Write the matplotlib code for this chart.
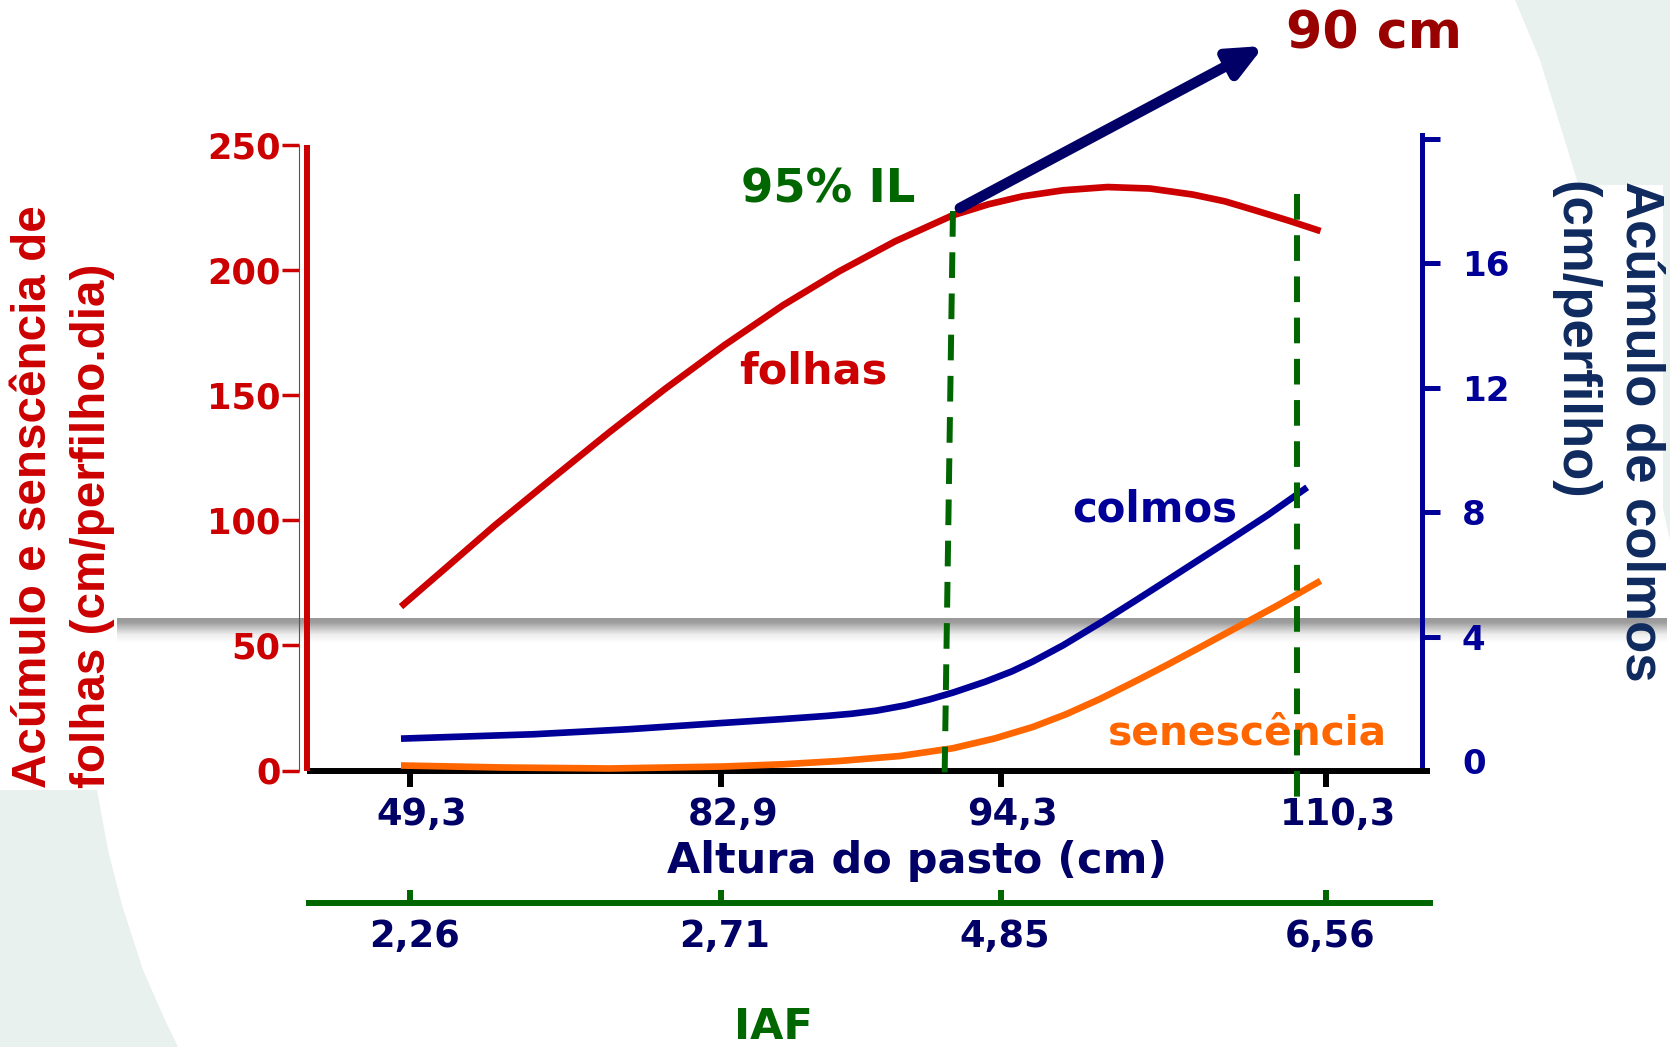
import numpy as np
import matplotlib
matplotlib.use("Agg")
import matplotlib.pyplot as plt
from matplotlib.patches import Polygon, Rectangle, FancyArrowPatch, ArrowStyle
from matplotlib.transforms import ScaledTranslation

# ---- data -------------------------------------------------------------
altura_labels = ["49,3", "82,9", "94,3", "110,3"]      # pasture height (cm)
iaf_labels = ["2,26", "2,71", "4,85", "6,56"]          # leaf area index
tick_pos = [0.0, 1.0, 1.9, 2.945]                      # category positions

# leaf accumulation (cm/perfilho.dia) - left axis
folhas_x = [-0.029, 0.12, 0.273, 0.45, 0.642, 0.82, 1.011, 1.2, 1.38, 1.56,
            1.743, 1.86, 1.97, 2.10, 2.243, 2.38, 2.517, 2.62, 2.72, 2.83,
            2.928]
folhas_y = [65.5, 81.5, 98.0, 116.0, 135.3, 152.5, 170.0, 186.0, 199.5,
            211.5, 221.8, 226.3, 229.5, 231.9, 233.2, 232.6, 230.2, 227.5,
            223.8, 219.6, 215.6]

# stem accumulation (cm/perfilho) - right axis
colmos_x = [-0.029, 0.396, 0.70, 0.999, 1.2, 1.34, 1.42, 1.5, 1.593, 1.67,
            1.746, 1.85, 1.935, 2.003, 2.10, 2.219, 2.33, 2.433, 2.54, 2.647,
            2.76, 2.885]
colmos_y = [0.72, 0.86, 1.02, 1.22, 1.35, 1.45, 1.52, 1.62, 1.79, 1.98,
            2.20, 2.55, 2.88, 3.20, 3.72, 4.44, 5.14, 5.80, 6.49, 7.18, 7.92,
            8.80]

# leaf senescence (cm/perfilho.dia) - left axis
senesc_x = [-0.029, 0.30, 0.642, 1.011, 1.2, 1.38, 1.576, 1.746, 1.88, 2.003,
            2.11, 2.219, 2.33, 2.433, 2.54, 2.647, 2.79, 2.928]
senesc_y = [2.0, 1.2, 0.8, 1.6, 2.5, 3.8, 5.8, 8.9, 12.8, 17.4, 22.5, 28.6,
            35.5, 42.1, 49.2, 56.4, 66.0, 75.8]

# ---- colours ----------------------------------------------------------
RED = "#CC0000"
DARKRED = "#990000"
BLUE = "#000099"
NAVY = "#000066"
ORANGE = "#FF6600"
GREEN = "#006600"
TITLE_NAVY = "#0F2A5E"
PALE = "#E9F1EE"

W, H = 1670, 1047
fig = plt.figure(figsize=(W / 100, H / 100), dpi=100)
fig.patch.set_facecolor("white")
plt.rcParams["font.family"] = ["DejaVu Sans"]

# ---- slide background (pixel coordinates) -----------------------------
bg = fig.add_axes([0, 0, 1, 1], zorder=0)
bg.set_xlim(0, W)
bg.set_ylim(H, 0)
bg.axis("off")
bg.add_patch(Polygon([(0, 700), (90, 760), (97, 790), (108, 850), (122, 905),
                      (143, 970), (165, 1020), (178, 1047), (0, 1047)],
                     closed=True, fc=PALE, ec="none"))
bg.add_patch(Polygon([(1515, 0), (1540, 60), (1560, 125), (1580, 190),
                      (1600, 260), (1625, 350), (1650, 450), (1670, 540),
                      (1670, 0)], closed=True, fc=PALE, ec="none"))
bg.add_patch(Rectangle((0, 190), 117, 600, fc="white", ec="none"))
bg.add_patch(Rectangle((1545, 185), 118, 433, fc="white", ec="none"))
# soft shadow band across the slide
offs = np.arange(0, 25)
shade = np.interp(offs, [0, 4, 10, 16, 24], [0.60, 0.62, 0.78, 0.93, 1.0])
band = np.repeat(shade[:, None, None], 3, axis=2)
bg.imshow(band, extent=[117, 1667, 643, 618], aspect="auto",
          interpolation="bilinear", zorder=1)
bg.set_xlim(0, W)
bg.set_ylim(H, 0)

# axis titles
bg.text(34, 788, "Acúmulo e senscência de", rotation=90, ha="center",
        va="bottom", color=RED, fontsize=34.3, fontweight="bold",
        family="Liberation Sans", zorder=3)
bg.text(93, 788, "folhas (cm/perfilho.dia)", rotation=90, ha="center",
        va="bottom", color=RED, fontsize=34.3, fontweight="bold",
        family="Liberation Sans", zorder=3)
bg.text(1640, 181, "Acúmulo de colmos", rotation=-90, ha="center", va="top",
        color=TITLE_NAVY, fontsize=38, fontweight="bold",
        family="Liberation Sans", zorder=3)
bg.text(1574, 181, "(cm/perfilho)", rotation=-90, ha="center", va="top",
        color=TITLE_NAVY, fontsize=38, fontweight="bold",
        family="Liberation Sans", zorder=3)
bg.text(917, 873, "Altura do pasto (cm)", ha="center", va="baseline",
        color=NAVY, fontsize=31, fontweight="bold", zorder=3)
bg.text(773.5, 1039, "IAF", ha="center", va="baseline", color=GREEN,
        fontsize=31, fontweight="bold", zorder=3)

# ---- main chart -------------------------------------------------------
x0, x1 = 299, 1430
y_top, y_zero = 135, 770.5
ax = fig.add_axes([x0 / W, 1 - y_zero / H, (x1 - x0) / W, (y_zero - y_top) / H],
                  zorder=1)
ax.patch.set_visible(False)
ax.set_xlim(-0.357, 3.28)
ax.set_ylim(0, 254)

ax2 = ax.twinx()
ax2.patch.set_visible(False)
ax2.set_ylim(-0.305, 20.13)

for s in ["top", "right"]:
    ax.spines[s].set_visible(False)
for s in ["top", "left", "bottom"]:
    ax2.spines[s].set_visible(False)

# left axis: thin frame line, thick red rule, red ticks
ax.spines["left"].set_color("#555555")
ax.spines["left"].set_linewidth(0.8)
ax.spines["left"].set_bounds(0, 250)
ax.plot([-0.331, -0.331], [0, 250], color=RED, lw=4.3,
        solid_capstyle="butt", zorder=3, clip_on=False)
ax.set_yticks([0, 50, 100, 150, 200, 250])
ax.tick_params(axis="y", direction="out", length=12.2, width=2.5, color=RED,
               labelcolor=RED, labelsize=25.4, pad=1)
for t in ax.get_yticklabels():
    t.set_fontweight("bold")

# bottom axis: pasture height
ax.spines["bottom"].set_color("black")
ax.spines["bottom"].set_linewidth(4.3)
ax.spines["bottom"].set_bounds(-0.331, 3.28)
ax.spines["bottom"].set_capstyle("butt")
ax.set_xticks(tick_pos, altura_labels)
ax.tick_params(axis="x", direction="out", length=11.5, width=4.3,
               color="black", labelcolor=NAVY, labelsize=26.5, pad=7)
for t in ax.get_xticklabels():
    t.set_fontweight("bold")
    t.set_transform(t.get_transform() + ScaledTranslation(0.12, 0, fig.dpi_scale_trans))

# right axis: stem accumulation
ax2.spines["right"].set_position(("data", 3.254))
ax2.spines["right"].set_color(BLUE)
ax2.spines["right"].set_linewidth(3.6)
ax2.spines["right"].set_bounds(-0.13, 20.13)
ax2.set_yticks([0, 4, 8, 12, 16, 20], ["0", "4", "8", "12", "16", ""])
ax2.tick_params(axis="y", direction="out", length=13, width=3.6, color=BLUE,
                labelcolor=BLUE, labelsize=24.5, pad=15.8)
ax2.yaxis.get_major_ticks()[0].tick2line.set_visible(False)
for t in ax2.get_yticklabels():
    t.set_fontweight("bold")

# leaf area index axis below
y_iaf = 903
ax3 = fig.add_axes([x0 / W, 1 - y_iaf / H, (x1 - x0) / W, 0.0005], zorder=1)
ax3.patch.set_visible(False)
ax3.set_xlim(ax.get_xlim())
ax3.set_yticks([])
for s in ["top", "left", "right"]:
    ax3.spines[s].set_visible(False)
ax3.spines["bottom"].set_color(GREEN)
ax3.spines["bottom"].set_linewidth(4.3)
ax3.spines["bottom"].set_bounds(-0.325, 3.28)
ax3.set_xticks(tick_pos, iaf_labels)
ax3.tick_params(axis="x", direction="in", length=9.4, width=4.3, color=GREEN,
                labelcolor=NAVY, labelsize=26.5, pad=11)
for t in ax3.get_xticklabels():
    t.set_fontweight("bold")
    t.set_transform(t.get_transform() + ScaledTranslation(0.04, 0, fig.dpi_scale_trans))

# ---- series -----------------------------------------------------------
line_kw = dict(lw=4.8, zorder=4, clip_on=False, solid_capstyle="butt",
               solid_joinstyle="round")
ax.plot(folhas_x, folhas_y, color=RED, **line_kw)
ax.plot(senesc_x, senesc_y, color=ORANGE, **line_kw)
ax.plot(colmos_x, colmos_y, color=BLUE, transform=ax2.transData, **line_kw)

# reference heights (95% light interception and 110 cm)
ax.plot([1.746, 1.719], [223.6, -3.4], color=GREEN, lw=4.3,
        dashes=(4.3, 2.6), zorder=5, clip_on=False)
ax.plot([2.851, 2.851], [230.6, -13.8], color=GREEN, lw=4.3,
        dashes=(4.3, 2.6), zorder=5, clip_on=False)

# series labels
ax.text(1.297, 154.5, "folhas", color=RED, fontsize=31, fontweight="bold",
        ha="center", va="baseline", zorder=3)
ax.text(2.394, 99.7, "colmos", color=BLUE, fontsize=30.2, fontweight="bold",
        ha="center", va="baseline", zorder=3)
ax.text(2.694, 10.2, "senescência", color=ORANGE, fontsize=29.3,
        fontweight="bold", ha="center", va="baseline", zorder=3)
ax.text(1.344, 227.2, "95% IL", color=GREEN, fontsize=33.5,
        fontweight="bold", ha="center", va="baseline", zorder=3)
ax.text(3.10, 288.4, "90 cm", color=DARKRED, fontsize=37.5,
        fontweight="bold", ha="center", va="baseline", zorder=3,
        clip_on=False)

arrow = FancyArrowPatch((1.768, 224.8), (2.746, 289.6),
                        arrowstyle=ArrowStyle("-|>", head_length=20,
                                              head_width=9),
                        mutation_scale=1, lw=7.5, color=NAVY, zorder=6,
                        shrinkA=0, shrinkB=0, clip_on=False,
                        transform=ax.transData)
ax.add_patch(arrow)

fig.savefig("out.png", dpi=100)
